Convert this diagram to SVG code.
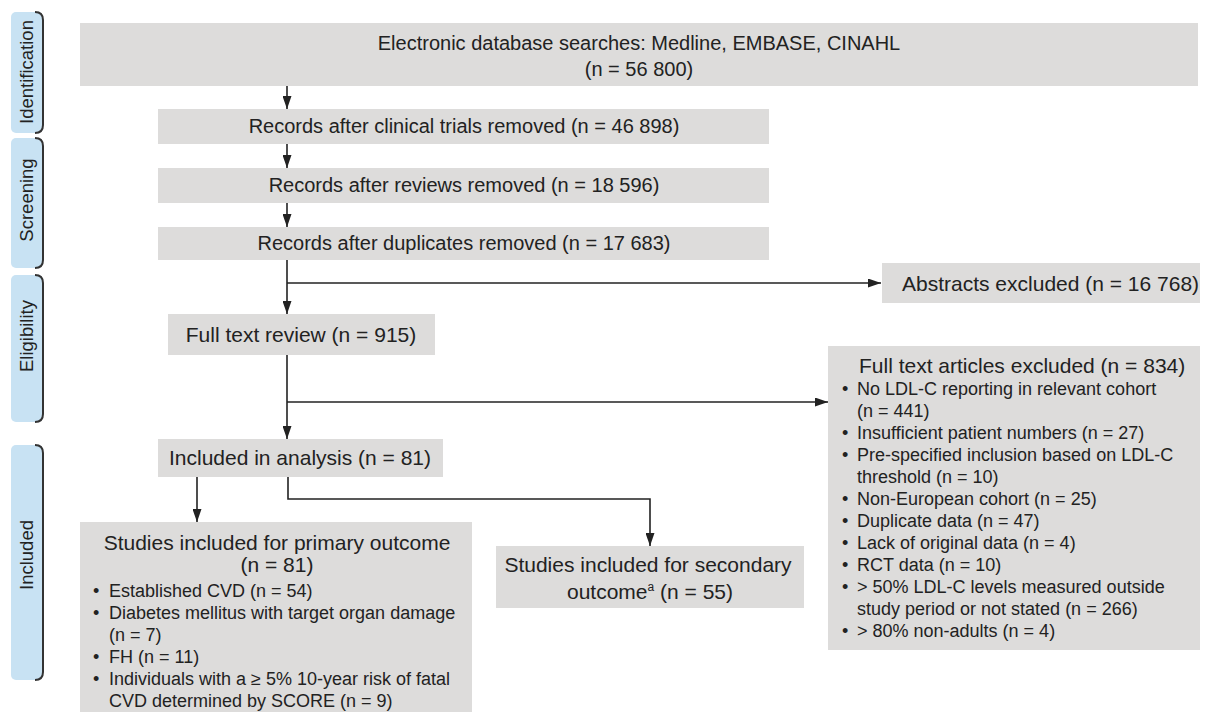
<svg xmlns="http://www.w3.org/2000/svg" width="1213" height="714" viewBox="0 0 1213 714">
<style>
.box{fill:#dddcdb;}
.t{font-family:"Liberation Sans",Arial,sans-serif;fill:#222;}
.f20{font-size:20px;}
.f21{font-size:21px;}
.f18{font-size:18px;}
.tab{fill:#c8e2f3;}
.tabedge{fill:none;stroke:#333;stroke-width:2;}
.tabt{font-family:"Liberation Sans",Arial,sans-serif;font-size:18.5px;fill:#222;}
.c{fill:none;stroke:#222;stroke-width:1.6;}
</style>
<defs>
<marker id="ah" markerUnits="userSpaceOnUse" markerWidth="13" markerHeight="9" refX="13" refY="4.5" orient="auto">
<path d="M0,0 L13,4.5 L0,9 z" fill="#222"/>
</marker>
</defs>

<g id="tab-identification">
<rect class="tab" x="11" y="12" width="32" height="121" rx="5"/>
<path class="tabedge" d="M35,12 Q43,12 43,20 L43,125 Q43,133 35,133"/>
<text class="tabt" transform="translate(33,72) rotate(-90)" text-anchor="middle">Identification</text>
</g>
<g id="tab-screening">
<rect class="tab" x="11" y="138" width="32" height="130" rx="5"/>
<path class="tabedge" d="M35,138 Q43,138 43,146 L43,260 Q43,268 35,268"/>
<text class="tabt" transform="translate(33,200) rotate(-90)" text-anchor="middle">Screening</text>
</g>
<g id="tab-eligibility">
<rect class="tab" x="11" y="275" width="32" height="147" rx="5"/>
<path class="tabedge" d="M35,275 Q43,275 43,283 L43,414 Q43,422 35,422"/>
<text class="tabt" transform="translate(33,336) rotate(-90)" text-anchor="middle">Eligibility</text>
</g>
<g id="tab-included">
<rect class="tab" x="11" y="445" width="32" height="235" rx="5"/>
<path class="tabedge" d="M35,445 Q43,445 43,453 L43,672 Q43,680 35,680"/>
<text class="tabt" transform="translate(33,555) rotate(-90)" text-anchor="middle">Included</text>
</g>

<g id="n-search">
<rect class="box" x="80" y="23" width="1118" height="63"/>
<text class="t f20" x="639" y="50" text-anchor="middle">Electronic database searches: Medline, EMBASE, CINAHL</text>
<text class="t f20" x="639" y="76" text-anchor="middle">(n = 56 800)</text>
</g>
<g id="n-trials">
<rect class="box" x="158" y="109" width="611" height="35"/>
<text class="t f20" x="464" y="133" text-anchor="middle">Records after clinical trials removed (n = 46 898)</text>
</g>
<g id="n-reviews">
<rect class="box" x="158" y="168" width="611" height="35"/>
<text class="t f20" x="464" y="192" text-anchor="middle">Records after reviews removed (n = 18 596)</text>
</g>
<g id="n-duplicates">
<rect class="box" x="158" y="227" width="611" height="33"/>
<text class="t f20" x="464" y="250" text-anchor="middle">Records after duplicates removed (n = 17 683)</text>
</g>
<g id="n-abstracts">
<rect class="box" x="882" y="263" width="318" height="40"/>
<text class="t f21" x="902" y="291">Abstracts excluded (n = 16 768)</text>
</g>
<g id="n-fulltext">
<rect class="box" x="168" y="314" width="267" height="41"/>
<text class="t f21" x="301" y="342" text-anchor="middle">Full text review (n = 915)</text>
</g>
<g id="n-excluded">
<rect class="box" x="828" y="346" width="372" height="304"/>
<text class="t f21" x="859" y="373">Full text articles excluded (n = 834)</text>
<g class="t f18">
<text x="842" y="395">•</text><text x="857" y="395">No LDL-C reporting in relevant cohort</text>
<text x="857" y="417">(n = 441)</text>
<text x="842" y="439">•</text><text x="857" y="439">Insufficient patient numbers (n = 27)</text>
<text x="842" y="461">•</text><text x="857" y="461">Pre-specified inclusion based on LDL-C</text>
<text x="857" y="483">threshold (n = 10)</text>
<text x="842" y="505">•</text><text x="857" y="505">Non-European cohort (n = 25)</text>
<text x="842" y="527">•</text><text x="857" y="527">Duplicate data (n = 47)</text>
<text x="842" y="549">•</text><text x="857" y="549">Lack of original data (n = 4)</text>
<text x="842" y="571">•</text><text x="857" y="571">RCT data (n = 10)</text>
<text x="842" y="593">•</text><text x="857" y="593">&gt; 50% LDL-C levels measured outside</text>
<text x="857" y="615">study period or not stated (n = 266)</text>
<text x="842" y="637">•</text><text x="857" y="637">&gt; 80% non-adults (n = 4)</text>
</g>
</g>
<g id="n-included">
<rect class="box" x="158" y="439" width="285" height="38"/>
<text class="t f21" x="300" y="465" text-anchor="middle">Included in analysis (n = 81)</text>
</g>
<g id="n-primary">
<rect class="box" x="80" y="522" width="392" height="190"/>
<text class="t f21" x="277" y="550" text-anchor="middle">Studies included for primary outcome</text>
<text class="t f21" x="277" y="572" text-anchor="middle">(n = 81)</text>
<g class="t f18">
<text x="93" y="597">•</text><text x="109" y="597">Established CVD (n = 54)</text>
<text x="93" y="619">•</text><text x="109" y="619">Diabetes mellitus with target organ damage</text>
<text x="109" y="641">(n = 7)</text>
<text x="93" y="663">•</text><text x="109" y="663">FH (n = 11)</text>
<text x="93" y="685">•</text><text x="109" y="685">Individuals with a ≥ 5% 10-year risk of fatal</text>
<text x="109" y="707">CVD determined by SCORE (n = 9)</text>
</g>
</g>
<g id="n-secondary">
<rect class="box" x="496" y="546" width="308" height="62"/>
<text class="t f21" x="648" y="572" text-anchor="middle">Studies included for secondary</text>
<text class="t f21" x="650" y="599" text-anchor="middle">outcome<tspan font-size="12" dy="-8">a</tspan><tspan dy="8"> (n = 55)</tspan></text>
</g>

<g id="connectors">
<path class="c" d="M287,86 V109" marker-end="url(#ah)"/>
<path class="c" d="M287,144 V168" marker-end="url(#ah)"/>
<path class="c" d="M287,203 V227" marker-end="url(#ah)"/>
<path class="c" d="M287,260 V314" marker-end="url(#ah)"/>
<path class="c" d="M287,283 H881" marker-end="url(#ah)"/>
<path class="c" d="M287,355 V439" marker-end="url(#ah)"/>
<path class="c" d="M287,402 H828" marker-end="url(#ah)"/>
<path class="c" d="M197,477 V522" marker-end="url(#ah)"/>
<path class="c" d="M288,477 V499 H650 V546" marker-end="url(#ah)"/>
</g>
</svg>
